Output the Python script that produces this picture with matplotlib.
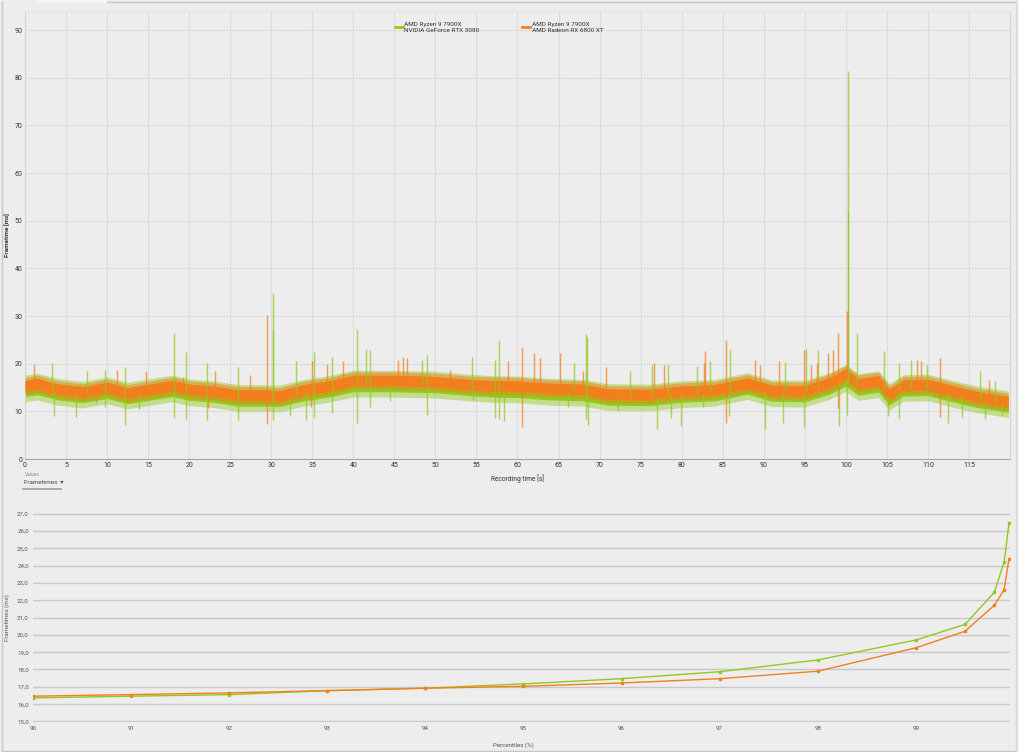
import matplotlib
matplotlib.use("Agg")
import matplotlib.pyplot as plt
import numpy as np
from matplotlib.lines import Line2D
from matplotlib.patches import Rectangle

plt.rcParams['font.family'] = ['Roboto', 'DejaVu Sans']

# ---- frametime trace ----
t_env = [0, 1.5, 4, 7, 10, 12.5, 15, 18, 20, 23, 26, 29, 31, 34, 37, 40, 45, 50, 54, 57,
         60, 64, 68, 71, 76, 80, 84, 88, 91, 95, 98, 100, 101.5, 104, 105.3, 107, 110, 113, 116, 119.8]
orange_mid = [15.3, 15.8, 14.6, 14.0, 15.0, 13.8, 14.5, 15.4, 14.6, 14.2, 13.4, 13.4, 13.2, 14.5, 15.3,
              16.5, 16.5, 16.2, 15.6, 15.4, 15.3, 14.8, 14.6, 13.6, 13.5, 14.2, 14.5, 15.9, 14.4, 14.3,
              16.0, 17.8, 15.8, 16.4, 13.6, 15.5, 15.6, 14.3, 13.0, 12.0]
green_mid = [14.8, 15.2, 14.1, 13.5, 14.4, 13.3, 14.0, 14.8, 14.0, 13.6, 12.8, 12.8, 12.7, 13.9, 14.7,
             15.8, 15.8, 15.6, 15.0, 14.7, 14.6, 14.1, 13.9, 13.0, 12.9, 13.6, 13.9, 15.3, 13.8, 13.7,
             15.3, 17.0, 15.1, 15.7, 13.0, 14.9, 15.0, 13.7, 12.5, 11.5]
orange_core, orange_fringe = 1.1, 1.8
green_core, green_fringe = 1.7, 2.8

green_spikes = [(3.3, 20.1), (7.5, 18.5), (9.8, 18.7), (12.2, 19.4), (18.2, 26.4), (19.6, 22.4),
                (22.2, 20.1), (25.9, 19.4), (30.2, 34.8), (30.2, 27.0), (33.0, 20.6), (35.2, 22.4),
                (37.4, 21.5), (40.4, 27.3), (41.6, 23.1), (42.0, 22.9), (48.4, 20.8), (49.0, 21.9),
                (54.4, 21.5), (57.2, 20.8), (57.8, 24.9), (66.9, 20.1), (68.4, 26.3), (68.5, 25.7),
                (73.7, 18.4), (76.4, 19.8), (78.3, 19.8), (81.9, 19.6), (83.4, 20.6), (85.9, 23.1),
                (92.6, 20.3), (95.1, 23.1), (96.6, 22.9), (100.3, 81.5), (100.3, 52.0), (101.3, 26.4),
                (104.6, 22.6), (106.5, 20.1), (107.9, 20.8), (109.9, 19.8), (116.3, 18.4), (118.2, 16.3),
                (3.5, 9.0), (6.2, 8.8), (9.8, 11.0), (12.2, 7.2), (13.9, 10.5), (18.2, 8.6), (19.6, 8.4),
                (22.2, 8.1), (25.9, 8.1), (30.2, 8.1), (32.3, 9.0), (34.2, 8.1), (35.2, 8.6), (37.4, 9.6),
                (40.4, 7.6), (42.0, 11.0), (44.5, 12.1), (49.0, 9.3), (54.6, 12.4), (57.2, 8.6),
                (57.8, 8.4), (58.3, 7.9), (66.2, 11.0), (68.3, 8.3), (68.6, 7.2), (72.2, 10.0),
                (77.0, 6.3), (78.7, 8.5), (79.9, 6.9), (82.6, 11.0), (85.8, 9.0), (90.2, 6.3),
                (92.4, 7.6), (94.9, 6.7), (99.2, 6.9), (100.1, 9.3), (105.1, 9.0), (106.5, 8.3),
                (112.4, 7.6), (114.2, 8.6), (116.9, 8.3), (119.0, 9.0)]
orange_spikes = [(1.1, 20.0), (11.2, 18.7), (14.8, 18.5), (19.2, 17.3), (23.2, 18.5), (27.4, 17.7),
                 (29.5, 30.3), (35.0, 20.5), (36.8, 20.0), (38.7, 20.5), (45.5, 20.8), (46.0, 21.5),
                 (46.5, 21.2), (51.8, 18.7), (58.8, 20.5), (60.6, 23.6), (62.0, 22.2), (62.8, 21.2),
                 (65.2, 22.2), (68.0, 18.4), (70.8, 19.4), (76.6, 20.1), (77.9, 19.8), (82.7, 20.1),
                 (82.9, 22.6), (85.4, 25.0), (88.9, 20.7), (89.6, 19.8), (91.9, 20.5), (94.9, 22.9),
                 (95.7, 19.8), (96.5, 20.1), (97.8, 22.2), (98.4, 22.9), (99.0, 26.4), (100.2, 31.0),
                 (108.7, 20.8), (109.1, 20.5), (111.5, 21.2), (117.5, 16.6),
                 (8.7, 11.7), (22.3, 10.7), (29.5, 7.4), (34.8, 11.0), (60.6, 6.7), (85.4, 7.6),
                 (99.0, 10.7), (111.5, 8.8)]

# ---- percentile curve ----
percentiles = [90, 91, 92, 93, 94, 95, 96, 97, 98, 99, 99.5, 99.8, 99.9, 99.95]
green_pct = [16.36, 16.46, 16.55, 16.78, 16.92, 17.17, 17.47, 17.87, 18.55, 19.7, 20.6, 22.45, 24.2, 26.45]
orange_pct = [16.46, 16.55, 16.65, 16.78, 16.92, 17.03, 17.22, 17.47, 17.9, 19.25, 20.2, 21.7, 22.6, 24.4]

labels = ['AMD Ryzen 9 7900X\nNVIDIA GeForce RTX 3080', 'AMD Ryzen 9 7900X\nAMD Radeon RX 6800 XT']

GREEN = '#93c91c'
ORANGE = '#f27e1e'
BG = '#ededed'
W, H = 1020, 752

fig = plt.figure(figsize=(10.2, 7.52), dpi=100, facecolor=BG)

# top panel
ax1 = fig.add_axes([25 / W, 1 - 459 / H, 985 / W, 448 / H], facecolor=BG)
gm = np.array(green_mid)
om = np.array(orange_mid)
ax1.fill_between(t_env, gm - green_fringe, gm + green_fringe, color=GREEN, alpha=0.45, lw=0, zorder=2)
ax1.fill_between(t_env, gm - green_core, gm + green_core, color=GREEN, lw=0, zorder=2)
ax1.fill_between(t_env, om - orange_fringe, om + orange_fringe, color=ORANGE, alpha=0.5, lw=0, zorder=3)
ax1.fill_between(t_env, om - orange_core, om + orange_core, color=ORANGE, lw=0, zorder=3)
gs_t = [s[0] for s in green_spikes]
gs_v = [s[1] for s in green_spikes]
os_t = [s[0] for s in orange_spikes]
os_v = [s[1] for s in orange_spikes]
ax1.vlines(gs_t, np.interp(gs_t, t_env, green_mid), gs_v, color=GREEN, lw=1.0, alpha=0.75, zorder=4)
ax1.vlines(os_t, np.interp(os_t, t_env, orange_mid), os_v, color=ORANGE, lw=1.0, alpha=0.75, zorder=4)

ax1.set_xlim(0, 120)
ax1.set_ylim(0, 94)
ax1.set_xticks(np.arange(0, 120, 5))
ax1.set_yticks(np.arange(0, 100, 10))
ax1.grid(True, color='#dcdcdc', lw=0.8, zorder=0)
ax1.set_axisbelow(True)
ax1.tick_params(length=0, labelsize=5.0, colors='#333333', pad=2)
for side, c in [('left', '#d2d2d2'), ('right', '#d2d2d2'), ('top', '#e2e2e2'), ('bottom', '#a8a8a8')]:
    ax1.spines[side].set_color(c)
ax1.set_xlabel('Recording time [s]', fontsize=4.8, color='#333333')
ax1.xaxis.set_label_coords(0.5, -0.034)
ax1.set_ylabel('Frametime [ms]', fontsize=4.5, color='#333333', fontweight='bold')
ax1.yaxis.set_label_coords(-0.015, 0.5)

fig.legend(handles=[Line2D([], [], color=GREEN, lw=2), Line2D([], [], color=ORANGE, lw=2)],
           labels=labels, loc='upper center', bbox_to_anchor=(499 / W, 1 - 16 / H), ncol=2,
           frameon=False, fontsize=4.6, handlelength=1.25, handletextpad=0.3, columnspacing=6.6,
           labelcolor='#333333', labelspacing=0.2)

fig.text(25 / W, 1 - 474 / H, 'Values', fontsize=3.5, color='#8a8a8a', va='center')
fig.text(24 / W, 1 - 482 / H, 'Frametimes  \u25be', fontsize=4.5, color='#444444', va='center')
fig.add_artist(Line2D([23 / W, 61 / W], [1 - 489 / H, 1 - 489 / H], color='#a0a0a0', lw=1.2))

# bottom panel
ax2 = fig.add_axes([33 / W, 30 / H, 977 / W, 209 / H], facecolor=BG)
ax2.plot(percentiles, green_pct, color=GREEN, lw=1.0, marker='s', ms=2.0, zorder=3)
ax2.plot(percentiles, orange_pct, color=ORANGE, lw=1.0, marker='s', ms=2.0, zorder=3)
ax2.set_xlim(90, 99.96)
ax2.set_ylim(14.97, 27.03)
ax2.set_xticks(range(90, 100))
ax2.set_yticks(range(15, 28))
ax2.set_yticklabels([('%.1f' % v).replace('.', ',') for v in range(15, 28)])
ax2.grid(True, axis='y', color='#c8c8c8', lw=1.0, zorder=0)
ax2.set_axisbelow(True)
for s in ax2.spines.values():
    s.set_visible(False)
ax2.tick_params(length=0, labelsize=4.4, colors='#555555', pad=3)
ax2.set_xlabel('Percentiles (%)', fontsize=4.4, color='#555555')
ax2.xaxis.set_label_coords(0.492, -0.095)
ax2.set_ylabel('Frametimes (ms)', fontsize=4.4, color='#555555')
ax2.yaxis.set_label_coords(-0.024, 0.5)

# outer border
fig.add_artist(Line2D([2 / W, 2 / W], [1 / H, 1 - 2 / H], color='#c6c6c6', lw=1))
fig.add_artist(Line2D([2 / W, 1016 / W], [1 / H, 1 / H], color='#c6c6c6', lw=1))
fig.add_artist(Line2D([107 / W, 1016 / W], [1 - 2 / H, 1 - 2 / H], color='#c6c6c6', lw=1))
fig.add_artist(Line2D([1016 / W, 1016 / W], [1 / H, 1 - 2 / H], color='#d8d8d8', lw=1))
fig.add_artist(Rectangle((37 / W, 1 - 3 / H), 70 / W, 3 / H, color='#f6f6f6', lw=0))

fig.savefig('out.png', dpi=100, facecolor=BG)
